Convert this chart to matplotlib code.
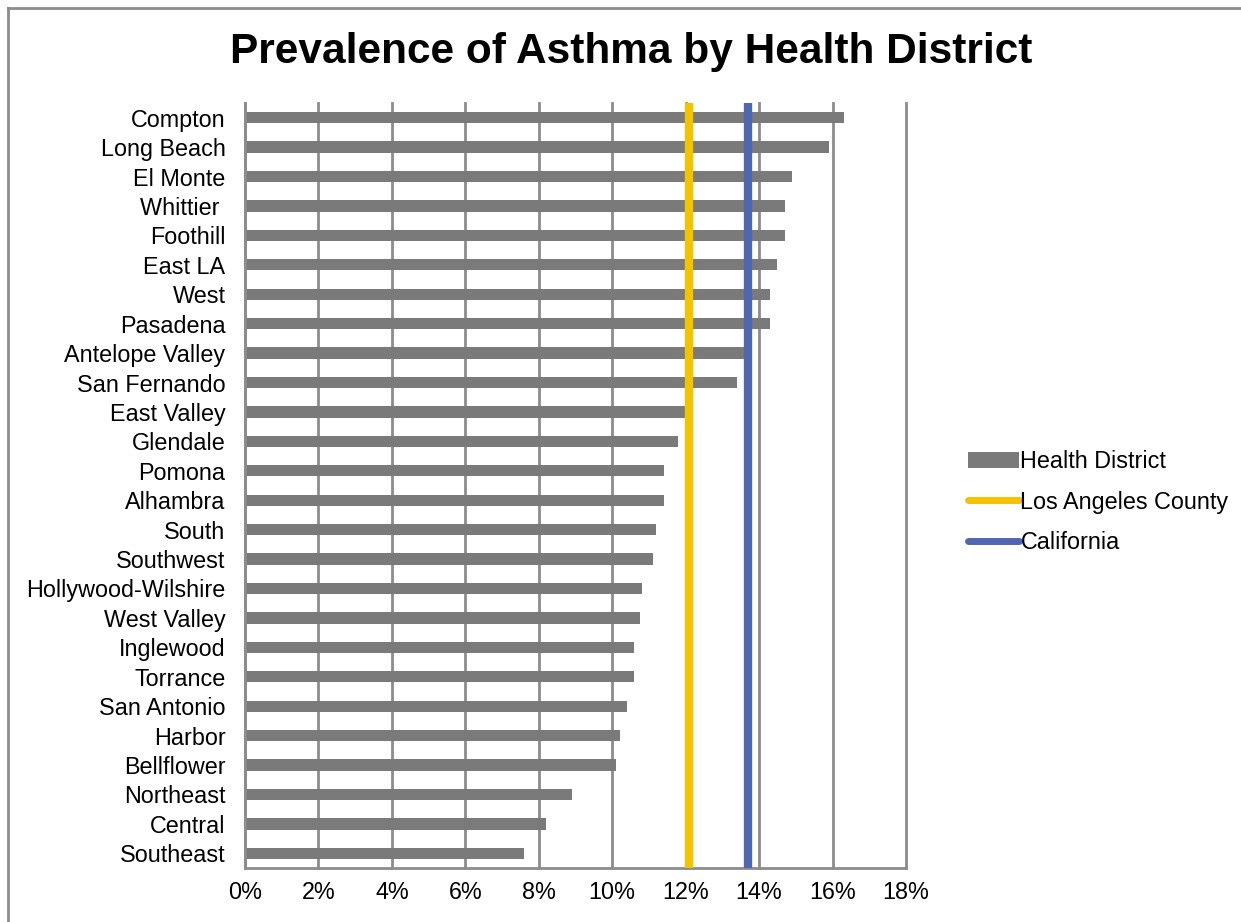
import matplotlib
matplotlib.use("Agg")
import matplotlib.pyplot as plt
from matplotlib.lines import Line2D
from matplotlib.patches import Patch

plt.rcParams['font.family'] = ['Liberation Sans', 'DejaVu Sans']

districts = [
    "Compton", "Long Beach", "El Monte", "Whittier ", "Foothill", "East LA",
    "West", "Pasadena", "Antelope Valley", "San Fernando", "East Valley",
    "Glendale", "Pomona", "Alhambra", "South", "Southwest",
    "Hollywood-Wilshire", "West Valley", "Inglewood", "Torrance",
    "San Antonio", "Harbor", "Bellflower", "Northeast", "Central", "Southeast",
]
prevalence = [
    16.3, 15.9, 14.9, 14.7, 14.7, 14.5,
    14.3, 14.3, 13.7, 13.4, 12.0,
    11.8, 11.4, 11.4, 11.2, 11.1,
    10.8, 10.75, 10.6, 10.6,
    10.4, 10.2, 10.1, 8.9, 8.2, 7.6,
]
la_county = 12.1
california = 13.7
x_ticks = [0, 2, 4, 6, 8, 10, 12, 14, 16, 18]

bar_color = "#7a7a7a"
grid_color = "#8c8c8c"
la_color = "#f5c200"
ca_color = "#4f67b0"
label_size = 16.8

fig = plt.figure(figsize=(12.41, 9.22), dpi=100)
ax = fig.add_axes([245 / 1241, 1 - 868 / 922, (906 - 245) / 1241, (868 - 103) / 922])

ypos = list(range(len(districts)))
ax.barh(ypos, prevalence, height=0.385, color=bar_color, zorder=2)
ax.axvline(la_county, color=la_color, lw=6, zorder=3)
ax.axvline(california, color=ca_color, lw=6, zorder=3)

ax.set_xlim(0, 18)
ax.set_ylim(len(districts) - 0.5, -0.5)
ax.set_xticks(x_ticks)
ax.set_xticklabels([f"{t}%" for t in x_ticks], fontsize=label_size)
ax.set_yticks(ypos)
ax.set_yticklabels(districts, fontsize=label_size)
ax.tick_params(axis='x', length=0, pad=9)
ax.tick_params(axis='y', length=0, pad=14)
ax.grid(axis='x', color=grid_color, lw=2, zorder=1)
for gl in ax.get_xgridlines():
    gl.set_clip_on(False)
for side in ['top', 'right']:
    ax.spines[side].set_visible(False)
for side in ['left', 'bottom']:
    ax.spines[side].set_color(grid_color)
    ax.spines[side].set_linewidth(2)

fig.text(631 / 1241, 1 - 52 / 922, "Prevalence of Asthma by Health District",
         ha='center', va='center', fontsize=30.5, fontweight='bold')

handles = [
    Patch(facecolor=bar_color, edgecolor='none'),
    Line2D([0], [0], color=la_color, lw=5, solid_capstyle='round'),
    Line2D([0], [0], color=ca_color, lw=5, solid_capstyle='round'),
]
labels = ["Health District", "Los Angeles County", "California"]
fig.legend(handles, labels, loc='center left', bbox_to_anchor=(968 / 1241, 1 - 502 / 922),
           frameon=False, fontsize=label_size, handlelength=2.2, handletextpad=0.05,
           labelspacing=0.75, borderaxespad=0, borderpad=0)

# outer chart frame
fig.add_artist(Line2D([8 / 1241, 1], [1 - 8 / 922, 1 - 8 / 922],
                      transform=fig.transFigure, color=grid_color, lw=2))
fig.add_artist(Line2D([8 / 1241, 8 / 1241], [0, 1 - 8 / 922],
                      transform=fig.transFigure, color=grid_color, lw=2))

fig.savefig("out.png", dpi=100)
